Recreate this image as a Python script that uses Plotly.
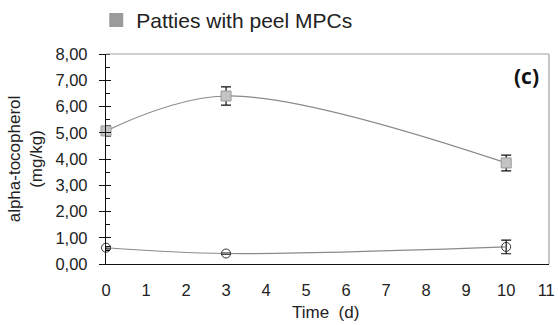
import plotly.graph_objects as go

# Data
days = [0, 3, 10]
peel_mpcs = [5.07, 6.40, 3.85]
peel_mpcs_err = [0.20, 0.35, 0.30]
control = [0.62, 0.40, 0.65]
control_err = [0.04, 0.02, 0.26]

legend_label = "Patties with peel MPCs"
x_ticks = list(range(0, 12))
y_ticks = [0, 1, 2, 3, 4, 5, 6, 7, 8]
y_tick_text = ["0,00", "1,00", "2,00", "3,00", "4,00", "5,00", "6,00", "7,00", "8,00"]

FONT = "Liberation Sans, Arial, sans-serif"
TXT = "#222222"

fig = go.Figure()

fig.add_trace(go.Scatter(
    x=days, y=peel_mpcs, mode="lines+markers",
    line=dict(color="#8a8a8a", width=1.2, shape="spline", smoothing=1),
    marker=dict(symbol="square", size=10, color="#c4c4c4", line=dict(color="#9a9a9a", width=1)),
    error_y=dict(type="data", array=peel_mpcs_err, color="#111111", thickness=1.2, width=5),
    showlegend=False, cliponaxis=False,
))

fig.add_trace(go.Scatter(
    x=days, y=control, mode="lines+markers",
    line=dict(color="#8a8a8a", width=1.2, shape="spline", smoothing=1),
    marker=dict(symbol="circle-open", size=9, color="#333333", line=dict(width=1)),
    error_y=dict(type="data", array=control_err, color="#111111", thickness=1.2, width=5),
    showlegend=False, cliponaxis=False,
))

# legend entry
fig.add_trace(go.Scatter(
    x=[None], y=[None], mode="markers", name=legend_label,
    marker=dict(symbol="square", size=14, color="#9b9b9b"),
    showlegend=True,
))

fig.update_layout(
    width=558, height=325,
    margin=dict(l=106, r=9, t=54, b=61, autoexpand=False),
    paper_bgcolor="white", plot_bgcolor="white",
    font=dict(family=FONT, size=16.5, color=TXT),
    showlegend=True,
    legend=dict(
        x=-0.022, y=1.16, xanchor="left", yanchor="middle",
        orientation="h", font=dict(size=21, color=TXT),
        bgcolor="rgba(0,0,0,0)", itemwidth=30,
    ),
    xaxis=dict(
        range=[0, 11.07], tickmode="array", tickvals=x_ticks,
        ticktext=[str(v) for v in x_ticks],
        showgrid=False, zeroline=False, showline=True, linecolor="#111111", linewidth=1.3,
        ticks="", ticklabelstandoff=11,
        mirror=False,
    ),
    yaxis=dict(
        range=[0, 8], tickmode="array", tickvals=y_ticks, ticktext=y_tick_text,
        showgrid=False, zeroline=False, showline=True, linecolor="#111111", linewidth=1.3,
        ticks="outside", ticklen=6, tickcolor="#111111", tickwidth=1.3, ticklabelstandoff=8,
        minor=dict(ticks="inside", ticklen=4, tickcolor="#111111", tickwidth=1.2, dtick=0.5, showgrid=False),
        title=dict(text="alpha-tocopherol<br>(mg/kg)", standoff=8, font=dict(size=17)),
    ),
    yaxis2=dict(
        range=[0, 8], overlaying="y", side="left", showgrid=False, zeroline=False,
        showline=False, ticks="inside", ticklen=5, tickcolor="#111111", tickwidth=1.3,
        tickvals=y_ticks, showticklabels=False,
    ),
    shapes=[
        dict(type="line", xref="paper", yref="paper", x0=0, x1=1, y0=1, y1=1,
             line=dict(color="#a0a0a0", width=1.2)),
        dict(type="line", xref="paper", yref="paper", x0=1, x1=1, y0=0, y1=1,
             line=dict(color="#a0a0a0", width=1.2)),
    ],
    annotations=[
        dict(text="<b>(c)</b>", xref="paper", yref="paper", x=0.983, y=0.893,
             xanchor="right", yanchor="middle", showarrow=False,
             font=dict(family="Open Sans, Liberation Sans, sans-serif", size=21, color="#111111")),
        dict(text="Time  (d)", xref="paper", yref="paper", x=0.495, y=0,
             xanchor="center", yanchor="middle", yshift=-48, showarrow=False,
             font=dict(size=17, color=TXT)),
    ],
)

# dummy trace to activate yaxis2
fig.add_trace(go.Scatter(x=[None], y=[None], yaxis="y2", showlegend=False, hoverinfo="skip"))

fig.write_html("out.html")
